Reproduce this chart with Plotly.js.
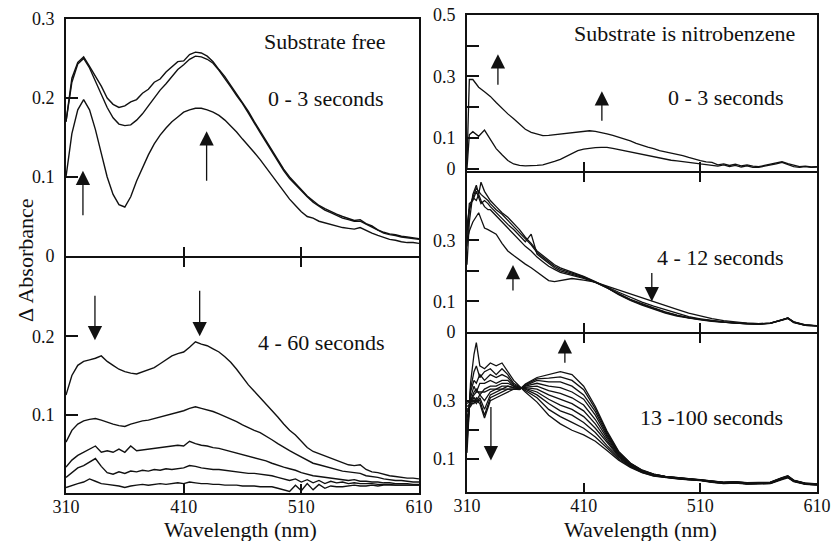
<!DOCTYPE html>
<html>
<head>
<meta charset="utf-8">
<script src="https://cdn.plot.ly/plotly-3.0.1.min.js"></script>
<style>
html,body{margin:0;padding:0;background:#fff;}
#chart{width:836px;height:541px;font-family:'Liberation Serif';}
</style>
</head>
<body>
<div id="chart"></div>
<script>
// ---------- Data ----------
// Left column wavelength grid (nm)
const LX = [310,315,320,325,330,335,340,345,350,355,360,365,370,375,380,385,390,395,400,405,
            410,415,420,425,430,435,440,445,450,455,460,465,470,475,480,485,490,495,500,505,
            510,515,520,525,530,535,540,545,550,555,560,565,570,575,580,585,590,595,600,605,610];

// Substrate free, 0 - 3 seconds
const free_0_3_a = [0.170,0.225,0.245,0.252,0.240,0.228,0.215,0.200,0.192,0.188,
                    0.190,0.195,0.198,0.206,0.211,0.220,0.224,0.233,0.239,0.246,
                    0.247,0.255,0.258,0.257,0.253,0.246,0.236,0.227,0.216,0.205,
                    0.195,0.183,0.170,0.158,0.146,0.134,0.122,0.110,0.100,0.092,
                    0.084,0.076,0.070,0.064,0.060,0.056,0.053,0.050,0.047,0.045,
                    0.046,0.041,0.038,0.033,0.030,0.028,0.027,0.025,0.024,0.023,0.022];
const free_0_3_b = [0.170,0.220,0.243,0.250,0.238,0.222,0.205,0.188,0.175,0.167,
                    0.165,0.166,0.172,0.180,0.190,0.200,0.210,0.218,0.227,0.236,
                    0.242,0.249,0.253,0.252,0.249,0.244,0.235,0.225,0.214,0.203,
                    0.193,0.181,0.168,0.156,0.144,0.132,0.120,0.108,0.098,0.090,
                    0.082,0.075,0.068,0.063,0.058,0.055,0.051,0.048,0.046,0.044,
                    0.044,0.040,0.036,0.032,0.029,0.027,0.026,0.024,0.023,0.022,0.021];
const free_0_3_c = [0.100,0.155,0.185,0.198,0.185,0.160,0.130,0.100,0.078,0.065,
                    0.062,0.075,0.095,0.112,0.128,0.142,0.153,0.162,0.170,0.176,
                    0.182,0.185,0.187,0.187,0.185,0.182,0.178,0.172,0.165,0.157,
                    0.148,0.140,0.131,0.122,0.112,0.102,0.092,0.082,0.072,0.064,
                    0.056,0.050,0.048,0.044,0.042,0.040,0.038,0.036,0.035,0.034,
                    0.036,0.032,0.029,0.026,0.023,0.021,0.020,0.018,0.017,0.017,0.016];

// Substrate free, 4 - 60 seconds
const free_4_60_a = [0.125,0.150,0.163,0.168,0.170,0.172,0.175,0.168,0.163,0.158,
                     0.155,0.153,0.152,0.155,0.157,0.160,0.165,0.170,0.175,0.178,
                     0.180,0.186,0.193,0.190,0.188,0.184,0.180,0.174,0.167,0.158,
                     0.148,0.138,0.130,0.122,0.114,0.106,0.097,0.088,0.080,0.074,
                     0.066,0.058,0.053,0.050,0.048,0.045,0.042,0.038,0.036,0.035,
                     0.036,0.030,0.027,0.026,0.024,0.022,0.021,0.020,0.019,0.019,0.018];
const free_4_60_b = [0.065,0.080,0.088,0.092,0.094,0.095,0.093,0.090,0.088,0.086,
                     0.085,0.088,0.090,0.092,0.093,0.095,0.097,0.099,0.101,0.103,
                     0.105,0.108,0.110,0.108,0.106,0.104,0.101,0.098,0.095,0.091,
                     0.087,0.083,0.080,0.077,0.073,0.068,0.063,0.058,0.054,0.050,
                     0.046,0.042,0.038,0.036,0.034,0.032,0.030,0.028,0.027,0.026,
                     0.025,0.022,0.021,0.020,0.018,0.017,0.016,0.016,0.015,0.014,0.014];
const free_4_60_c = [0.033,0.042,0.048,0.052,0.055,0.060,0.052,0.054,0.052,0.056,
                     0.052,0.060,0.054,0.055,0.056,0.057,0.058,0.059,0.060,0.061,
                     0.060,0.066,0.063,0.061,0.060,0.058,0.057,0.055,0.053,0.051,
                     0.049,0.047,0.045,0.043,0.041,0.038,0.035,0.033,0.031,0.029,
                     0.026,0.024,0.022,0.021,0.020,0.019,0.018,0.017,0.016,0.017,
                     0.015,0.015,0.014,0.014,0.013,0.013,0.012,0.012,0.012,0.011,0.011];
const free_4_60_d = [0.020,0.026,0.032,0.035,0.040,0.044,0.034,0.026,0.024,0.027,
                     0.025,0.028,0.027,0.029,0.028,0.030,0.029,0.031,0.030,0.031,
                     0.032,0.035,0.034,0.032,0.031,0.030,0.030,0.029,0.028,0.027,
                     0.026,0.025,0.025,0.024,0.023,0.022,0.020,0.018,0.016,0.018,
                     0.014,0.017,0.013,0.016,0.012,0.015,0.013,0.014,0.012,0.013,
                     0.012,0.012,0.012,0.011,0.011,0.011,0.010,0.010,0.010,0.010,0.010];
const free_4_60_e = [0.007,0.010,0.012,0.014,0.018,0.015,0.012,0.011,0.010,0.009,
                     0.007,0.009,0.010,0.011,0.010,0.011,0.012,0.011,0.012,0.013,
                     0.012,0.014,0.013,0.012,0.012,0.011,0.011,0.010,0.010,0.010,
                     0.009,0.009,0.009,0.008,0.008,0.008,0.006,0.004,0.002,0.010,
                     0.003,0.012,0.004,0.011,0.006,0.009,0.008,0.008,0.009,0.010,
                     0.009,0.009,0.010,0.009,0.010,0.010,0.010,0.010,0.010,0.010,0.010];

// Nitrobenzene, 0 - 3 seconds
const RX = [310,312,315,320,325,330,335,340,345,350,355,360,365,370,375,380,385,390,395,400,405,
            410,415,420,425,430,435,440,445,450,455,460,465,470,475,480,485,490,495,500,505,
            510,515,520,525,530,535,540,545,550,555,560,565,570,575,580,585,590,595,600,605,610];
const nb_0_3_a = [0.020,0.290,
                  0.290,0.265,0.250,0.235,0.215,0.195,0.178,0.162,0.145,0.128,
                  0.118,0.112,0.107,0.108,0.110,0.112,0.115,0.118,0.120,0.122,
                  0.123,0.121,0.118,0.113,0.108,0.102,0.097,0.090,0.082,0.075,
                  0.070,0.065,0.058,0.054,0.050,0.047,0.042,0.036,0.030,0.026,
                  0.022,0.020,0.012,0.015,0.010,0.014,0.009,0.012,0.008,0.006,
                  0.010,0.014,0.018,0.022,0.016,0.010,0.006,0.008,0.005,0.006];
const nb_0_3_b = [0.000,0.110,
                  0.120,0.105,0.125,0.095,0.065,0.045,0.026,0.015,0.010,0.009,
                  0.009,0.010,0.012,0.017,0.023,0.030,0.040,0.050,0.058,0.063,
                  0.066,0.068,0.069,0.069,0.066,0.062,0.058,0.054,0.050,0.047,
                  0.043,0.038,0.034,0.030,0.027,0.025,0.022,0.019,0.017,0.015,
                  0.013,0.011,0.008,0.012,0.006,0.010,0.005,0.009,0.004,0.004,
                  0.007,0.011,0.015,0.020,0.014,0.006,0.004,0.006,0.004,0.005];

// Nitrobenzene, 4 - 12 seconds
const MX = [310,312,315,318,320,322,325,328,330,335,340,345,350,355,360,365,370,375,380,385,390,
            400,410,420,430,440,450,460,470,480,490,500,510,520,530,540,550,560,570,580,585,590,600,610];
const nb_4_12 = [
  [0.22,0.36,0.45,0.48,0.45,0.49,0.46,0.44,0.43,0.41,0.39,0.375,0.355,0.335,0.31,0.29,0.265,0.25,0.235,0.22,0.21,
   0.197,0.182,0.165,0.145,0.122,0.103,0.088,0.075,0.062,0.052,0.045,0.040,0.035,0.031,0.029,0.027,0.026,0.028,0.038,0.045,0.032,0.022,0.020],
  [0.28,0.40,0.44,0.47,0.46,0.45,0.44,0.43,0.42,0.40,0.385,0.365,0.345,0.325,0.305,0.285,0.26,0.245,0.23,0.215,0.205,
   0.193,0.18,0.163,0.145,0.124,0.105,0.09,0.077,0.064,0.054,0.046,0.041,0.036,0.032,0.029,0.027,0.026,0.028,0.037,0.044,0.031,0.022,0.020],
  [0.32,0.42,0.43,0.46,0.44,0.42,0.43,0.42,0.41,0.39,0.37,0.352,0.335,0.315,0.295,0.32,0.255,0.24,0.225,0.21,0.2,
   0.19,0.178,0.162,0.145,0.126,0.107,0.092,0.079,0.066,0.055,0.047,0.041,0.036,0.032,0.029,0.027,0.026,0.029,0.039,0.046,0.032,0.022,0.020],
  [0.35,0.40,0.44,0.43,0.45,0.43,0.41,0.40,0.40,0.38,0.36,0.34,0.32,0.30,0.28,0.265,0.245,0.23,0.215,0.205,0.195,
   0.185,0.175,0.162,0.148,0.13,0.113,0.098,0.085,0.073,0.06,0.05,0.043,0.037,0.033,0.030,0.028,0.027,0.029,0.039,0.046,0.033,0.023,0.021],
  [0.30,0.33,0.36,0.38,0.39,0.37,0.34,0.335,0.33,0.32,0.29,0.265,0.25,0.235,0.222,0.21,0.195,0.18,0.168,0.165,0.168,
   0.175,0.17,0.163,0.15,0.137,0.125,0.113,0.1,0.087,0.074,0.062,0.052,0.044,0.037,0.032,0.029,0.027,0.029,0.040,0.046,0.033,0.023,0.020]
];

// Nitrobenzene, 13 - 100 seconds
const BX = [310,313,316,318,321,325,330,335,340,345,350,355,360,370,380,390,400,410,420,430,440,450,460,470,
            480,490,500,510,520,530,540,550,560,570,580,585,590,600,610];
const nb_13_100 = [
  [0.12,0.36,0.46,0.50,0.42,0.41,0.43,0.42,0.43,0.40,0.37,0.35,0.33,0.295,0.25,0.22,0.198,0.182,0.16,0.128,0.095,0.070,0.052,0.040,
   0.034,0.030,0.027,0.024,0.018,0.014,0.016,0.012,0.013,0.014,0.028,0.034,0.021,0.011,0.009],
  [0.15,0.34,0.40,0.42,0.38,0.40,0.41,0.39,0.41,0.39,0.36,0.347,0.335,0.31,0.27,0.245,0.225,0.205,0.175,0.136,0.100,0.072,0.053,0.041,
   0.035,0.031,0.028,0.025,0.019,0.015,0.017,0.013,0.014,0.015,0.030,0.036,0.022,0.012,0.010],
  [0.18,0.33,0.37,0.36,0.39,0.37,0.39,0.38,0.39,0.38,0.355,0.345,0.34,0.32,0.29,0.265,0.25,0.225,0.19,0.145,0.105,0.074,0.054,0.042,
   0.036,0.031,0.028,0.026,0.019,0.016,0.017,0.013,0.014,0.015,0.030,0.036,0.022,0.012,0.010],
  [0.20,0.31,0.35,0.33,0.36,0.36,0.37,0.36,0.37,0.37,0.35,0.343,0.342,0.33,0.305,0.285,0.27,0.245,0.205,0.155,0.108,0.076,0.055,0.043,
   0.036,0.032,0.029,0.026,0.020,0.016,0.018,0.014,0.015,0.016,0.031,0.037,0.023,0.013,0.011],
  [0.22,0.30,0.33,0.34,0.32,0.34,0.35,0.35,0.36,0.36,0.35,0.342,0.345,0.34,0.32,0.305,0.29,0.265,0.22,0.163,0.111,0.078,0.056,0.044,
   0.037,0.032,0.029,0.026,0.020,0.017,0.018,0.014,0.015,0.016,0.031,0.037,0.023,0.013,0.011],
  [0.24,0.30,0.32,0.33,0.33,0.33,0.34,0.34,0.35,0.35,0.345,0.341,0.347,0.35,0.335,0.325,0.31,0.285,0.235,0.171,0.114,0.080,0.057,0.045,
   0.037,0.033,0.030,0.027,0.021,0.017,0.019,0.015,0.016,0.017,0.032,0.038,0.024,0.014,0.011],
  [0.26,0.29,0.31,0.30,0.32,0.30,0.33,0.34,0.34,0.35,0.345,0.34,0.35,0.36,0.35,0.345,0.33,0.305,0.25,0.178,0.117,0.081,0.058,0.046,
   0.038,0.033,0.030,0.027,0.021,0.017,0.019,0.015,0.016,0.017,0.032,0.038,0.024,0.014,0.012],
  [0.27,0.28,0.30,0.29,0.31,0.27,0.32,0.33,0.34,0.34,0.34,0.34,0.352,0.37,0.365,0.365,0.35,0.32,0.262,0.184,0.120,0.083,0.059,0.046,
   0.038,0.034,0.031,0.028,0.022,0.018,0.020,0.016,0.017,0.018,0.033,0.039,0.025,0.015,0.012],
  [0.28,0.29,0.29,0.31,0.30,0.25,0.31,0.32,0.33,0.34,0.34,0.339,0.355,0.375,0.378,0.382,0.37,0.338,0.272,0.190,0.123,0.084,0.060,0.047,
   0.039,0.034,0.031,0.028,0.022,0.018,0.020,0.016,0.017,0.018,0.034,0.040,0.025,0.015,0.012],
  [0.29,0.30,0.31,0.30,0.29,0.24,0.30,0.31,0.32,0.33,0.34,0.338,0.357,0.38,0.39,0.40,0.39,0.35,0.28,0.195,0.125,0.085,0.061,0.047,
   0.039,0.035,0.032,0.029,0.023,0.019,0.021,0.017,0.018,0.019,0.035,0.041,0.026,0.016,0.013]
];

// ---------- Build figure ----------
const W = 836, H = 541;
const px = v => v / W;             // pixel -> paper x
const py = v => 1 - v / H;         // pixel -> paper y
const INK = '#111';
const SERIF = 'Liberation Serif';

const traces = [];
function addLine(xs, ys, xa, ya, w) {
  traces.push({x: xs, y: ys, xaxis: xa, yaxis: ya, type: 'scatter', mode: 'lines',
               line: {color: INK, width: w || 1.2}, hoverinfo: 'skip', showlegend: false});
}
[free_0_3_a, free_0_3_b, free_0_3_c].forEach(s => addLine(LX, s, 'x', 'y', 1.4));
[free_4_60_a, free_4_60_b, free_4_60_c, free_4_60_d, free_4_60_e].forEach(s => addLine(LX, s, 'x2', 'y2', 1.4));
[nb_0_3_a, nb_0_3_b].forEach(s => addLine(RX, s, 'x3', 'y3', 1.3));
nb_4_12.forEach(s => addLine(MX, s, 'x4', 'y4', 1.3));
nb_13_100.forEach(s => addLine(BX, s, 'x5', 'y5', 1.3));

const base = {
  showgrid: false, zeroline: false, showline: true, mirror: true,
  linecolor: INK, linewidth: 2, ticks: 'inside', tickcolor: INK, tickwidth: 2,
  ticklen: 9, tickfont: {family: SERIF, size: 18, color: INK}, fixedrange: true
};
const LDOM = [px(66), px(419)], RDOM = [px(467), px(817)];
const yb = Object.assign({}, base, {ticklen: 12, ticklabelstandoff: 6});
const xb = Object.assign({}, base, {ticklabelstandoff: -4});

const layout = {
  width: W, height: H, margin: {l: 0, r: 0, t: 0, b: 0},
  paper_bgcolor: '#fff', plot_bgcolor: '#fff', showlegend: false,
  font: {family: SERIF, color: INK},
  xaxis:  Object.assign({}, xb, {domain: LDOM, range: [310, 610], anchor: 'y',  tickvals: [410, 510], showticklabels: false}),
  xaxis2: Object.assign({}, xb, {domain: LDOM, range: [310, 610], anchor: 'y2', tickvals: [310, 410, 510, 610], mirror: 'ticks'}),
  xaxis3: Object.assign({}, xb, {domain: RDOM, range: [310, 610], anchor: 'y3', tickvals: [410, 510], showticklabels: false}),
  xaxis4: Object.assign({}, xb, {domain: RDOM, range: [310, 610], anchor: 'y4', tickvals: [410, 510], showticklabels: false, mirror: 'ticks'}),
  xaxis5: Object.assign({}, xb, {domain: RDOM, range: [310, 610], anchor: 'y5', tickvals: [310, 410, 510, 610], mirror: 'ticks'}),
  // stacked panels overlap by the frame width so shared borders stay single
  yaxis:  Object.assign({}, yb, {domain: [py(256), py(19)],  range: [0, 0.3],   anchor: 'x',
                                 tickvals: [0, 0.1, 0.2, 0.3], ticktext: ['0', '0.1', '0.2', '0.3']}),
  yaxis2: Object.assign({}, yb, {domain: [py(493), py(258)], range: [0, 0.3],   anchor: 'x2',
                                 tickvals: [0.1, 0.2], ticktext: ['0.1', '0.2']}),
  yaxis3: Object.assign({}, yb, {domain: [py(171), py(15)],  range: [-0.008, 0.5], anchor: 'x3',
                                 tickvals: [0, 0.1, 0.2, 0.3, 0.4, 0.5], ticktext: ['0', '0.1', '', '0.3', '', '0.5']}),
  yaxis4: Object.assign({}, yb, {domain: [py(332), py(173)], range: [0, 0.52],  anchor: 'x4',
                                 tickvals: [0, 0.1, 0.2, 0.3], ticktext: ['0', '0.1', '', '0.3']}),
  yaxis5: Object.assign({}, yb, {domain: [py(492), py(334)], range: [-0.015, 0.53], anchor: 'x5',
                                 tickvals: [0.1, 0.2, 0.3], ticktext: ['0.1', '', '0.3']}),
  annotations: []
};

function label(text, x, y, size, extra) {
  layout.annotations.push(Object.assign({text: text, xref: 'paper', yref: 'paper', x: px(x), y: py(y),
    xanchor: 'center', yanchor: 'middle', showarrow: false,
    font: {family: SERIF, size: size, color: INK}}, extra || {}));
}
label('Substrate free', 325, 42, 22);
label('0 - 3 seconds', 325, 99, 22);
label('4 - 60 seconds', 321, 342, 22);
label('Substrate is nitrobenzene', 684, 33, 22);
label('0 - 3 seconds', 725, 98, 22);
label('4 - 12 seconds', 720, 257, 22);
label('13 -100 seconds', 711, 417, 22);
label('Wavelength (nm)', 241, 529, 22);
label('Wavelength (nm)', 640, 529, 22);
label('\u0394 Absorbance', 25, 260, 22, {textangle: -90});

function arrow(xa, ya, x, y, ay) {
  layout.annotations.push({xref: xa, yref: ya, x: x, y: y, ax: 0, ay: ay, text: '',
    showarrow: true, arrowhead: 2, arrowsize: 2.2, arrowwidth: 1.3, arrowcolor: INK, standoff: 0});
}
arrow('x', 'y', 324.4, 0.108, 46);
arrow('x', 'y', 429.5, 0.158, 51);
arrow('x2', 'y2', 334.6, 0.195, -46);
arrow('x2', 'y2', 423.6, 0.200, -47);
arrow('x3', 'y3', 336.5, 0.372, 32);
arrow('x3', 'y3', 425.6, 0.252, 31);
arrow('x4', 'y4', 349.4, 0.219, 27);
arrow('x4', 'y4', 468.4, 0.100, -30);
arrow('x5', 'y5', 393.9, 0.512, 25);
arrow('x5', 'y5', 330.5, 0.094, -55);

Plotly.newPlot('chart', traces, layout, {displayModeBar: false, staticPlot: true});
</script>
</body>
</html>
